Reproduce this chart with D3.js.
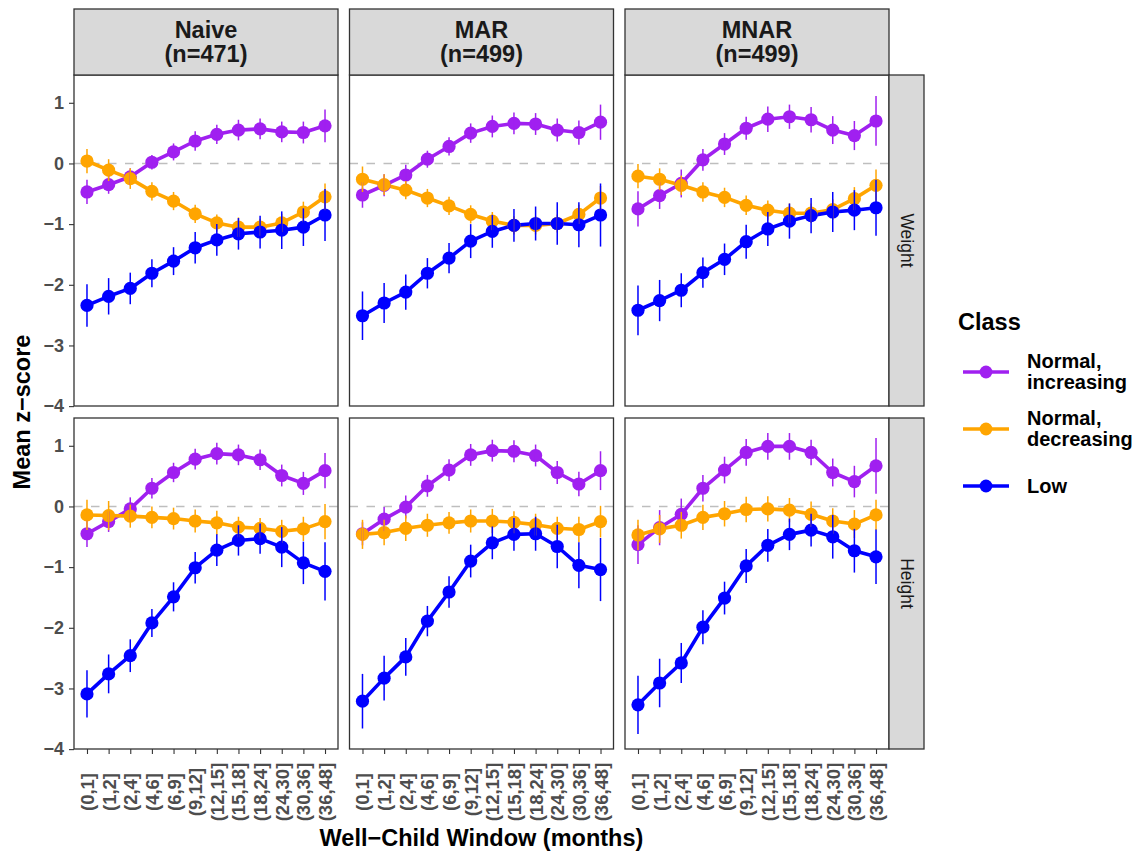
<!DOCTYPE html>
<html>
<head>
<meta charset="utf-8">
<script src="https://cdn.jsdelivr.net/npm/d3@7"></script>
<style>
  body { margin: 0; background: #ffffff; }
  text { font-family: "Liberation Sans", Arial, Helvetica, sans-serif; }
</style>
</head>
<body>
<script>
// ---- data -------------------------------------------------------------
const windows = ["(0,1]", "(1,2]", "(2,4]", "(4,6]", "(6,9]", "(9,12]",
                 "(12,15]", "(15,18]", "(18,24]", "(24,30]", "(30,36]", "(36,48]"];
const methods = ["Naive", "MAR", "MNAR"];
const methodN = [471, 499, 499];
const measures = ["Weight", "Height"];
const classes = ["Normal, increasing", "Normal, decreasing", "Low"];
const classColors = ["#A020F0", "#FFA500", "#0000FF"];
const yTicks = [-4, -3, -2, -1, 0, 1];

// Weight: mean z-score and 95% half-width per window
const weightNaiveInc     = [-0.47, -0.35, -0.22, 0.02, 0.19, 0.37, 0.48, 0.55, 0.57, 0.52, 0.51, 0.62];
const weightNaiveIncCI   = [0.20, 0.15, 0.14, 0.12, 0.14, 0.16, 0.16, 0.17, 0.17, 0.17, 0.18, 0.27];
const weightNaiveDec     = [0.04, -0.11, -0.25, -0.46, -0.62, -0.83, -0.98, -1.05, -1.05, -0.98, -0.80, -0.55];
const weightNaiveDecCI   = [0.20, 0.18, 0.17, 0.15, 0.15, 0.15, 0.14, 0.16, 0.14, 0.15, 0.17, 0.22];
const weightNaiveLow     = [-2.34, -2.19, -2.06, -1.81, -1.61, -1.39, -1.26, -1.16, -1.13, -1.10, -1.05, -0.85];
const weightNaiveLowCI   = [0.35, 0.30, 0.26, 0.23, 0.23, 0.26, 0.26, 0.26, 0.27, 0.31, 0.31, 0.43];

const weightMarInc       = [-0.52, -0.36, -0.19, 0.07, 0.28, 0.50, 0.61, 0.66, 0.65, 0.55, 0.51, 0.68];
const weightMarIncCI     = [0.21, 0.18, 0.17, 0.14, 0.15, 0.16, 0.18, 0.18, 0.18, 0.19, 0.20, 0.29];
const weightMarDec       = [-0.26, -0.35, -0.44, -0.57, -0.70, -0.84, -0.95, -1.02, -1.02, -0.99, -0.84, -0.57];
const weightMarDecCI     = [0.21, 0.17, 0.15, 0.15, 0.15, 0.15, 0.15, 0.15, 0.15, 0.15, 0.16, 0.20];
const weightMarLow       = [-2.51, -2.30, -2.12, -1.81, -1.56, -1.28, -1.12, -1.02, -0.99, -0.99, -1.01, -0.85];
const weightMarLowCI     = [0.40, 0.33, 0.29, 0.25, 0.25, 0.28, 0.27, 0.27, 0.28, 0.35, 0.37, 0.52];

const weightMnarInc      = [-0.75, -0.53, -0.33, 0.06, 0.32, 0.58, 0.73, 0.77, 0.72, 0.55, 0.46, 0.70];
const weightMnarIncCI    = [0.29, 0.22, 0.23, 0.18, 0.18, 0.19, 0.21, 0.20, 0.21, 0.23, 0.24, 0.41];
const weightMnarDec      = [-0.21, -0.26, -0.36, -0.47, -0.56, -0.69, -0.77, -0.82, -0.82, -0.76, -0.58, -0.36];
const weightMnarDecCI    = [0.20, 0.18, 0.16, 0.16, 0.16, 0.16, 0.16, 0.16, 0.16, 0.17, 0.19, 0.26];
const weightMnarLow      = [-2.42, -2.26, -2.09, -1.80, -1.58, -1.29, -1.08, -0.95, -0.86, -0.80, -0.77, -0.73];
const weightMnarLowCI    = [0.41, 0.34, 0.28, 0.25, 0.26, 0.28, 0.28, 0.29, 0.29, 0.33, 0.33, 0.46];

// Height: mean z-score and 95% half-width per window
const heightNaiveInc     = [-0.45, -0.25, -0.04, 0.30, 0.56, 0.78, 0.87, 0.85, 0.77, 0.51, 0.38, 0.59];
const heightNaiveIncCI   = [0.22, 0.17, 0.19, 0.17, 0.16, 0.17, 0.18, 0.17, 0.17, 0.18, 0.19, 0.29];
const heightNaiveDec     = [-0.14, -0.15, -0.16, -0.18, -0.20, -0.24, -0.27, -0.34, -0.36, -0.41, -0.37, -0.25];
const heightNaiveDecCI   = [0.25, 0.24, 0.19, 0.18, 0.18, 0.19, 0.20, 0.17, 0.17, 0.19, 0.20, 0.29];
const heightNaiveLow     = [-3.09, -2.76, -2.46, -1.92, -1.49, -1.01, -0.72, -0.56, -0.53, -0.67, -0.93, -1.07];
const heightNaiveLowCI   = [0.39, 0.32, 0.27, 0.23, 0.24, 0.26, 0.26, 0.25, 0.25, 0.33, 0.35, 0.48];

const heightMarInc       = [-0.45, -0.21, -0.01, 0.34, 0.60, 0.85, 0.92, 0.91, 0.84, 0.56, 0.37, 0.59];
const heightMarIncCI     = [0.19, 0.20, 0.19, 0.18, 0.18, 0.18, 0.18, 0.18, 0.18, 0.19, 0.20, 0.32];
const heightMarDec       = [-0.46, -0.43, -0.36, -0.31, -0.27, -0.24, -0.24, -0.26, -0.30, -0.36, -0.38, -0.25];
const heightMarDecCI     = [0.24, 0.21, 0.21, 0.19, 0.18, 0.19, 0.20, 0.18, 0.18, 0.19, 0.21, 0.26];
const heightMarLow       = [-3.21, -2.83, -2.48, -1.89, -1.41, -0.90, -0.60, -0.46, -0.45, -0.66, -0.97, -1.04];
const heightMarLowCI     = [0.45, 0.37, 0.31, 0.25, 0.26, 0.27, 0.27, 0.27, 0.28, 0.36, 0.38, 0.52];

const heightMnarInc      = [-0.63, -0.35, -0.13, 0.30, 0.60, 0.89, 0.99, 0.99, 0.89, 0.56, 0.41, 0.67];
const heightMnarIncCI    = [0.32, 0.29, 0.26, 0.22, 0.22, 0.22, 0.22, 0.22, 0.21, 0.23, 0.26, 0.46];
const heightMnarDec      = [-0.47, -0.37, -0.31, -0.18, -0.12, -0.05, -0.04, -0.06, -0.13, -0.24, -0.29, -0.14];
const heightMnarDecCI    = [0.25, 0.23, 0.22, 0.21, 0.21, 0.21, 0.21, 0.20, 0.21, 0.21, 0.23, 0.25];
const heightMnarLow      = [-3.27, -2.91, -2.58, -1.99, -1.51, -0.98, -0.64, -0.46, -0.39, -0.50, -0.73, -0.83];
const heightMnarLowCI    = [0.48, 0.40, 0.33, 0.28, 0.27, 0.28, 0.27, 0.26, 0.27, 0.36, 0.36, 0.45];

// panel grid: rows = measures, columns = methods; each cell lists [mean, ci] per class
const panelSeries = [
  [
    [[weightNaiveInc, weightNaiveIncCI], [weightNaiveDec, weightNaiveDecCI], [weightNaiveLow, weightNaiveLowCI]],
    [[weightMarInc, weightMarIncCI], [weightMarDec, weightMarDecCI], [weightMarLow, weightMarLowCI]],
    [[weightMnarInc, weightMnarIncCI], [weightMnarDec, weightMnarDecCI], [weightMnarLow, weightMnarLowCI]]
  ],
  [
    [[heightNaiveInc, heightNaiveIncCI], [heightNaiveDec, heightNaiveDecCI], [heightNaiveLow, heightNaiveLowCI]],
    [[heightMarInc, heightMarIncCI], [heightMarDec, heightMarDecCI], [heightMarLow, heightMarLowCI]],
    [[heightMnarInc, heightMnarIncCI], [heightMnarDec, heightMnarDecCI], [heightMnarLow, heightMnarLowCI]]
  ]
];

// ---- layout -----------------------------------------------------------
const W = 1143, H = 854;
const panelLeft = 74, panelTop = 75;
const panelW = 264, panelH = 331;
const gapX = 11.5, gapY = 12;
const stripTopH = 66, stripRightW = 35;
const border = "#333333", stripFill = "#D9D9D9";
const tickColor = "#333333", tickText = "#4D4D4D";

const svg = d3.select("body").append("svg")
  .attr("width", W).attr("height", H)
  .style("display", "block");

// shared y range across all panels, padded by 5% on each side
let lo = Infinity, hi = -Infinity;
panelSeries.flat(2).forEach(([m, ci]) => {
  m.forEach((v, i) => { lo = Math.min(lo, v - ci[i]); hi = Math.max(hi, v + ci[i]); });
});
const pad = (hi - lo) * 0.05;
const y = d3.scaleLinear().domain([lo - pad, hi + pad]).range([panelH, 0]);
const x = d3.scalePoint().domain(windows).range([0, panelW]).padding(0.6);

const line = d3.line().x((d, i) => x(windows[i])).y(d => y(d));

measures.forEach((measure, r) => {
  const py = panelTop + r * (panelH + gapY);
  methods.forEach((method, c) => {
    const px = panelLeft + c * (panelW + gapX);
    const g = svg.append("g").attr("transform", `translate(${px},${py})`);

    g.append("rect").attr("width", panelW).attr("height", panelH).attr("fill", "#ffffff");

    // reference line at z = 0
    g.append("line")
      .attr("x1", 0).attr("x2", panelW)
      .attr("y1", y(0)).attr("y2", y(0))
      .attr("stroke", "#BEBEBE").attr("stroke-width", 1.6)
      .attr("stroke-dasharray", "8.5,8.5");

    const series = panelSeries[r][c];

    series.forEach(([m], k) => {
      g.append("path").datum(m)
        .attr("d", line)
        .attr("fill", "none")
        .attr("stroke", classColors[k])
        .attr("stroke-width", 3.6)
        .attr("stroke-linejoin", "round");
    });
    series.forEach(([m], k) => {
      g.selectAll(null).data(m).enter().append("circle")
        .attr("cx", (d, i) => x(windows[i]))
        .attr("cy", d => y(d))
        .attr("r", 6.6)
        .attr("fill", classColors[k]);
    });
    series.forEach(([m, ci], k) => {
      g.selectAll(null).data(m).enter().append("line")
        .attr("x1", (d, i) => x(windows[i])).attr("x2", (d, i) => x(windows[i]))
        .attr("y1", (d, i) => y(d - ci[i])).attr("y2", (d, i) => y(d + ci[i]))
        .attr("stroke", classColors[k])
        .attr("stroke-width", 1.5);
    });

    g.append("rect").attr("width", panelW).attr("height", panelH)
      .attr("fill", "none").attr("stroke", border).attr("stroke-width", 1.3);

    // y axis on first column
    if (c === 0) {
      const ya = g.append("g").call(
        d3.axisLeft(y).tickValues(yTicks).tickSize(5).tickPadding(5)
          .tickFormat(d => d3.format("d")(d).replace("-", "\u2212")));
      ya.select(".domain").remove();
      ya.selectAll(".tick line").attr("stroke", tickColor).attr("stroke-width", 1.1);
      ya.selectAll(".tick text")
        .attr("fill", tickText).attr("font-size", 18).attr("font-weight", "bold")
        .attr("font-family", "Liberation Sans, Arial, sans-serif");
    }

    // x axis on bottom row
    if (r === measures.length - 1) {
      const xa = g.append("g").attr("transform", `translate(0,${panelH})`)
        .call(d3.axisBottom(x).tickSize(5).tickSizeOuter(0));
      xa.select(".domain").remove();
      xa.selectAll(".tick line").attr("stroke", tickColor).attr("stroke-width", 1.1);
      xa.selectAll(".tick text")
        .attr("fill", tickText).attr("font-size", 18.5).attr("font-weight", "bold")
        .attr("font-family", "Liberation Sans, Arial, sans-serif")
        .attr("text-anchor", "middle")
        .attr("dy", null)
        .attr("y", null)
        .attr("dominant-baseline", "central")
        .attr("transform", "translate(0,43) rotate(-90)");
    }

    // top strip with method label
    if (r === 0) {
      const s = svg.append("g").attr("transform", `translate(${px},${panelTop - stripTopH})`);
      s.append("rect").attr("width", panelW).attr("height", stripTopH)
        .attr("fill", stripFill).attr("stroke", border).attr("stroke-width", 1.3);
      const t = s.append("text").attr("text-anchor", "middle")
        .attr("font-size", 23.5).attr("font-weight", "bold").attr("fill", "#1A1A1A");
      t.append("tspan").attr("x", panelW / 2).attr("y", 28.5).text(method);
      t.append("tspan").attr("x", panelW / 2).attr("y", 53).text(`(n=${methodN[c]})`);
    }

    // right strip with measure label
    if (c === methods.length - 1) {
      const s = svg.append("g").attr("transform", `translate(${px + panelW},${py})`);
      s.append("rect").attr("width", stripRightW).attr("height", panelH)
        .attr("fill", stripFill).attr("stroke", border).attr("stroke-width", 1.3);
      s.append("text")
        .attr("transform", `translate(${stripRightW / 2},${panelH / 2}) rotate(90)`)
        .attr("text-anchor", "middle").attr("dominant-baseline", "central")
        .attr("font-size", 17.5).attr("fill", "#1A1A1A")
        .text(measure);
    }
  });
});

// axis titles
const plotRight = panelLeft + 3 * panelW + 2 * gapX;
svg.append("text")
  .attr("x", (panelLeft + plotRight) / 2).attr("y", 846)
  .attr("text-anchor", "middle").attr("font-size", 23.5).attr("font-weight", "bold")
  .attr("fill", "#000000")
  .text("Well\u2212Child Window (months)");

svg.append("text")
  .attr("transform", `translate(30,${panelTop + panelH + gapY / 2}) rotate(-90)`)
  .attr("text-anchor", "middle").attr("font-size", 23.5).attr("font-weight", "bold")
  .attr("fill", "#000000")
  .text("Mean z\u2212score");

// legend
const legend = svg.append("g").attr("transform", "translate(958,0)");
legend.append("text").attr("x", 0).attr("y", 330)
  .attr("font-size", 23.5).attr("font-weight", "bold").attr("fill", "#000000")
  .text("Class");

const keyY = [372, 429, 486];
classes.forEach((cls, k) => {
  const kg = legend.append("g").attr("transform", `translate(0,${keyY[k]})`);
  kg.append("line").attr("x1", 5).attr("x2", 51).attr("y1", 0).attr("y2", 0)
    .attr("stroke", classColors[k]).attr("stroke-width", 3.4);
  kg.append("circle").attr("cx", 28).attr("cy", 0).attr("r", 6.4).attr("fill", classColors[k]);
  const parts = cls.includes(",") ? [cls.split(", ")[0] + ",", cls.split(", ")[1]] : [cls];
  const t = kg.append("text").attr("font-size", 20).attr("font-weight", "bold").attr("fill", "#000000");
  if (parts.length === 2) {
    t.append("tspan").attr("x", 69).attr("y", -4).text(parts[0]);
    t.append("tspan").attr("x", 69).attr("y", 17).text(parts[1]);
  } else {
    t.append("tspan").attr("x", 69).attr("y", 7).text(parts[0]);
  }
});
</script>
</body>
</html>
